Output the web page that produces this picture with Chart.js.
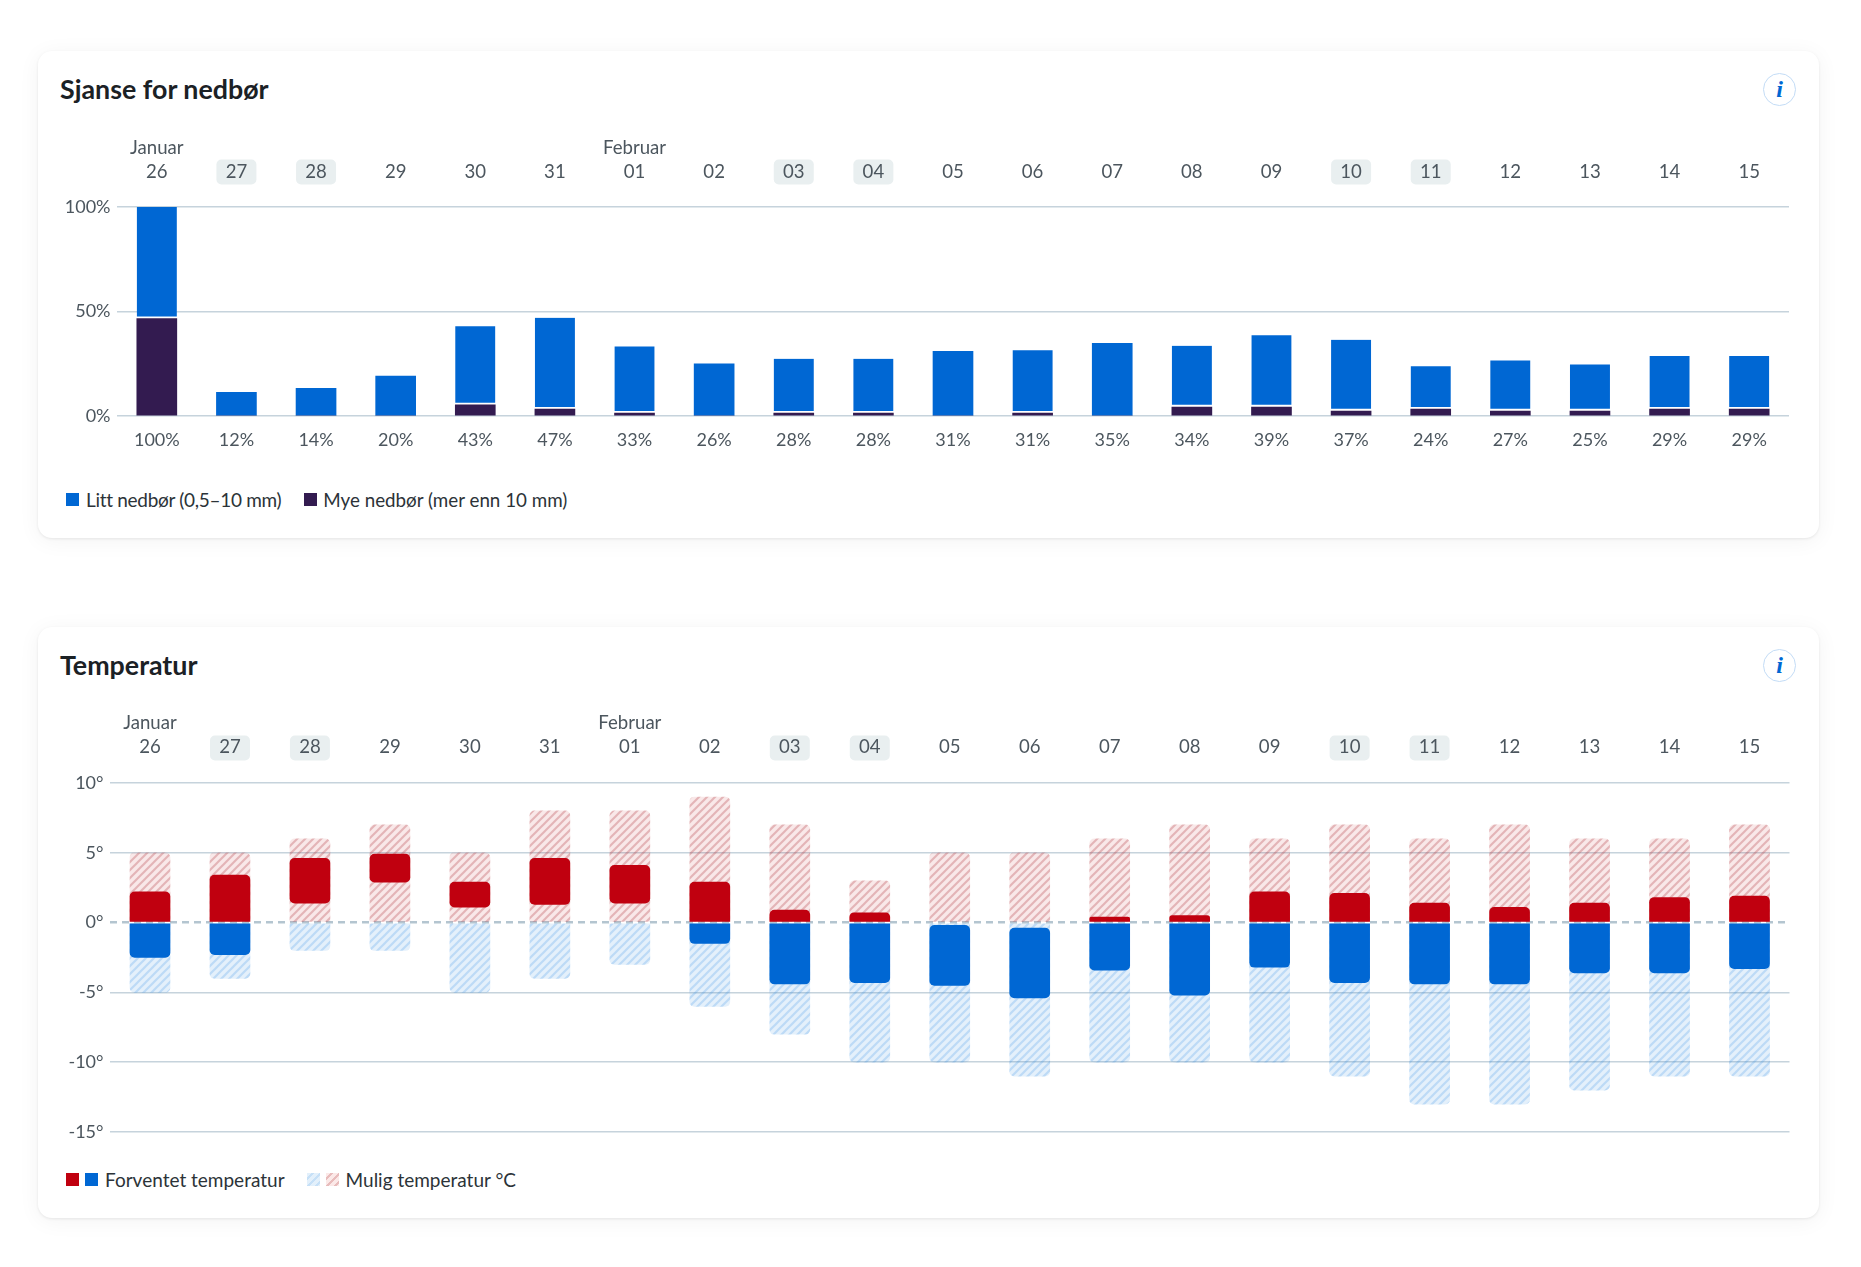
<!DOCTYPE html>
<html lang="no">
<head>
<meta charset="utf-8">
<title>Sjanse for nedbør og temperatur</title>
<script src="https://cdn.jsdelivr.net/npm/chart.js@4/dist/chart.umd.min.js"></script>
<style>
  html, body { margin: 0; background: #fff; }
  body { width: 1861px; height: 1267px; position: relative; overflow: hidden; font-family: Lato, sans-serif; }
  .card { position: absolute; left: 38px; width: 1781px; background: #fff; border-radius: 14px;
    box-shadow: 0 1px 3px rgba(0,0,0,.08), 0 3px 22px rgba(0,0,0,.05); }
  #rainCard { top: 51px; height: 487px; }
  #tempCard { top: 627px; height: 591px; }
  .card h2 { position: absolute; left: 22px; margin: 0; font-size: 26.8px; line-height: 32px; font-weight: 700; color: #1b2125; }
  #rainCard h2 { top: 22px; }
  #tempCard h2 { top: 22px; }
  .info { position: absolute; left: 1725px; width: 31px; height: 31px; border: 1.5px solid #c3dcf6; border-radius: 50%;
    text-align: center; font: italic bold 24px/31px "Liberation Serif", serif; color: #0067d3; }
  #rainCard .info { top: 22px; }
  #tempCard .info { top: 22px; }
  .plot { position: absolute; left: 0; width: 1779px; }
  #rainPlot { top: 80px; height: 340px; }
  #tempPlot { top: 79px; height: 444px; }
  .legend { position: absolute; left: 28px; height: 24px; display: flex; align-items: center; font-size: 19px; color: #2c3338; white-space: nowrap; }
  #rainCard .legend { top: 436.5px; }
  #tempCard .legend { top: 540px; }
  .swatch { width: 13px; height: 13px; display: inline-block; }
  .gap { margin-right: 7px; }
  .hatch-blue { background: repeating-linear-gradient(135deg, #e3f0fb 0 3px, #c6e0f7 3px 5.6px); }
  .hatch-red { background: repeating-linear-gradient(135deg, #fbe9e8 0 3px, #e8bcbc 3px 5.6px); }
</style>
</head>
<body>
<div class="card" id="rainCard">
  <h2>Sjanse for nedbør</h2>
  <div class="info">i</div>
  <div class="plot" id="rainPlot"><canvas id="rainChart"></canvas></div>
  <div class="legend">
    <span class="swatch gap" style="background:#0067d3"></span><span style="margin-right:23px;letter-spacing:-0.3px">Litt nedbør (0,5–10 mm)</span>
    <span class="swatch" style="background:#331b50;margin-right:6px"></span><span style="font-size:18.8px">Mye nedbør (mer enn 10 mm)</span>
  </div>
</div>
<div class="card" id="tempCard">
  <h2>Temperatur</h2>
  <div class="info">i</div>
  <div class="plot" id="tempPlot"><canvas id="tempChart"></canvas></div>
  <div class="legend">
    <span class="swatch" style="background:#c0000f;margin-right:6px"></span>
    <span class="swatch gap" style="background:#0067d3"></span><span style="margin-right:22px">Forventet temperatur</span>
    <span class="swatch hatch-blue" style="margin-right:6px"></span>
    <span class="swatch hatch-red gap"></span><span>Mulig temperatur °C</span>
  </div>
</div>

<script>
const days = ['26', '27', '28', '29', '30', '31', '01', '02', '03', '04', '05', '06', '07', '08', '09', '10', '11', '12', '13', '14', '15'];
const months = ['Januar', '', '', '', '', '', 'Februar', '', '', '', '', '', '', '', '', '', '', '', '', '', ''];
const weekendDays = ['27', '28', '03', '04', '10', '11'];

const rainTotals = ['100%', '12%', '14%', '20%', '43%', '47%', '33%', '26%', '28%', '28%', '31%', '31%', '35%', '34%', '39%', '37%', '24%', '27%', '25%', '29%', '29%'];
const heavyRain = [46.6, 0, 0, 0, 5.3, 3.3, 1.4, 0, 1.4, 1.4, 0, 1.4, 0, 4.3, 4.3, 2.4, 3.3, 2.4, 2.4, 3.3, 3.3];
const lightRain = [53.4, 11.3, 13.2, 19.1, 37.6, 43.7, 31.9, 25, 26, 26, 30.9, 30, 34.8, 29.3, 34.3, 34.1, 20.5, 24.2, 22.3, 25.4, 25.4];
const rainTicks = [0, 50, 100];

const possibleHigh = [5, 5, 6, 7, 5, 8, 8, 9, 7, 3, 5, 5, 6, 7, 6, 7, 6, 7, 6, 6, 7];
const possibleLow = [-5, -4, -2, -2, -5, -4, -3, -6, -8, -10, -10, -11, -10, -10, -10, -11, -13, -13, -12, -11, -11];
const expectedHigh = [2.2, 3.4, 4.6, 4.9, 2.9, 4.6, 4.1, 2.9, 0.9, 0.7, -0.2, -0.4, 0.4, 0.5, 2.2, 2.1, 1.4, 1.1, 1.4, 1.8, 1.9];
const expectedLow = [-2.5, -2.3, 1.4, 2.9, 1.1, 1.3, 1.4, -1.5, -4.4, -4.3, -4.5, -5.4, -3.4, -5.2, -3.2, -4.3, -4.4, -4.4, -3.6, -3.6, -3.3];
const tempTicks = [-15, -10, -5, 0, 5, 10];

const BLUE = '#0067d3';
const PURPLE = '#331b50';
const RED = '#c0000f';
const GRID = '#c6d3dc';
const ZERO_LINE = '#b4c5d0';
const TEXT = '#4c565e';
const FONT = 'Lato, sans-serif';

const dayLabels = days.map((d, i) => months[i] ? [months[i], d] : d);

// diagonal stripes for the "possible temperature" bars, see-through so the grid shows
function hatch(bg, stripe) {
  const size = 8;
  const tile = document.createElement('canvas');
  tile.width = size;
  tile.height = size;
  const ctx = tile.getContext('2d');
  ctx.fillStyle = bg;
  ctx.fillRect(0, 0, size, size);
  ctx.strokeStyle = stripe;
  ctx.lineWidth = 2.2;
  ctx.lineCap = 'square';
  ctx.beginPath();
  ctx.moveTo(-2, 2);
  ctx.lineTo(2, -2);
  ctx.moveTo(-2, 10);
  ctx.lineTo(10, -2);
  ctx.moveTo(6, 10);
  ctx.lineTo(10, 6);
  ctx.stroke();
  return ctx.createPattern(tile, 'repeat');
}

// grey boxes behind the weekend dates
const weekendBadges = {
  id: 'weekendBadges',
  beforeDraw(chart) {
    const scale = chart.scales.x;
    const ctx = chart.ctx;
    ctx.save();
    ctx.fillStyle = '#e9eff0';
    days.forEach((d, i) => {
      if (!weekendDays.includes(d)) return;
      ctx.beginPath();
      ctx.roundRect(scale.getPixelForTick(i) - 20, scale.bottom - 47.5, 40, 25, 5);
      ctx.fill();
    });
    ctx.restore();
  }
};

function dayAxis(height, padding) {
  return {
    position: 'top',
    stacked: true,
    grid: { display: false },
    border: { display: false },
    afterFit: scale => { scale.height = height; },
    ticks: {
      color: TEXT,
      padding: padding,
      maxRotation: 0,
      autoSkip: false,
      font: { family: FONT, size: 18.6, lineHeight: 1.3 }
    }
  };
}

function valueAxis(width, min, max, ticks, suffix) {
  return {
    min: min,
    max: max,
    afterFit: scale => { scale.width = width; },
    afterBuildTicks: scale => { scale.ticks = ticks.map(v => ({ value: v })); },
    border: {
      display: false,
      dash: ctx => (suffix === '°' && ctx.tick && ctx.tick.value === 0 ? [7, 5] : [])
    },
    grid: {
      color: ctx => (suffix === '°' && ctx.tick && ctx.tick.value === 0 ? ZERO_LINE : GRID),
      lineWidth: ctx => (suffix === '°' && ctx.tick && ctx.tick.value === 0 ? 2.5 : 1.5),
      drawTicks: false
    },
    ticks: {
      color: TEXT,
      padding: 6.5,
      font: { family: FONT, size: 18 },
      callback: v => v + suffix
    }
  };
}

new Chart(document.getElementById('rainChart'), {
  type: 'bar',
  plugins: [weekendBadges],
  data: {
    labels: dayLabels,
    datasets: [
      { label: 'Mye nedbør (mer enn 10 mm)', data: heavyRain, backgroundColor: PURPLE, barThickness: 40 },
      {
        label: 'Litt nedbør (0,5–10 mm)',
        data: lightRain,
        backgroundColor: BLUE,
        barThickness: 40,
        borderColor: '#fff',
        borderSkipped: false,
        borderWidth: ctx => ({ top: 0, left: 0, right: 0, bottom: heavyRain[ctx.dataIndex] > 0 ? 2.5 : 0 })
      }
    ]
  },
  options: {
    responsive: true,
    maintainAspectRatio: false,
    animation: false,
    layout: { padding: { right: 28 } },
    plugins: { legend: { display: false }, tooltip: { enabled: false } },
    scales: {
      x: dayAxis(76, 15),
      x2: {
        type: 'category',
        labels: rainTotals,
        position: 'bottom',
        grid: { display: false },
        border: { display: false },
        afterFit: scale => { scale.height = 55; },
        ticks: { color: TEXT, padding: 5, maxRotation: 0, autoSkip: false, font: { family: FONT, size: 18 } }
      },
      y: Object.assign(valueAxis(79, 0, 100, rainTicks, '%'), { stacked: true })
    }
  }
});

const hatchRed = hatch('rgba(192,0,15,0.09)', 'rgba(180,60,70,0.30)');
const hatchBlue = hatch('rgba(30,130,225,0.12)', 'rgba(30,130,225,0.2)');

function corners(roundTop, roundBottom) {
  const r = 5;
  return {
    topLeft: roundTop ? r : 0,
    topRight: roundTop ? r : 0,
    bottomLeft: roundBottom ? r : 0,
    bottomRight: roundBottom ? r : 0
  };
}

new Chart(document.getElementById('tempChart'), {
  type: 'bar',
  plugins: [weekendBadges],
  data: {
    labels: dayLabels,
    datasets: [
      {
        label: 'Forventet temperatur over null',
        data: days.map((d, i) => expectedHigh[i] > 0 ? [Math.max(expectedLow[i], 0), expectedHigh[i]] : null),
        backgroundColor: RED,
        barThickness: 40,
        borderSkipped: false,
        borderRadius: ctx => corners(true, expectedLow[ctx.dataIndex] > 0),
        order: 1
      },
      {
        label: 'Forventet temperatur under null',
        data: days.map((d, i) => expectedLow[i] < 0 ? [Math.min(expectedHigh[i], 0), expectedLow[i]] : null),
        backgroundColor: BLUE,
        barThickness: 40,
        borderSkipped: false,
        borderRadius: ctx => corners(expectedHigh[ctx.dataIndex] < 0, true),
        order: 1
      },
      {
        label: 'Mulig temperatur over null',
        data: days.map((d, i) => [0, possibleHigh[i]]),
        backgroundColor: hatchRed,
        barThickness: 40,
        borderSkipped: false,
        borderRadius: corners(true, false),
        order: 2
      },
      {
        label: 'Mulig temperatur under null',
        data: days.map((d, i) => [0, possibleLow[i]]),
        backgroundColor: hatchBlue,
        barThickness: 40,
        borderSkipped: false,
        borderRadius: corners(false, true),
        order: 2
      }
    ]
  },
  options: {
    responsive: true,
    maintainAspectRatio: false,
    animation: false,
    layout: { padding: { right: 27.5, bottom: 18 } },
    plugins: { legend: { display: false }, tooltip: { enabled: false } },
    scales: {
      x: dayAxis(77, 16),
      y: valueAxis(72, -15, 10, tempTicks, '°')
    }
  }
});
</script>
</body>
</html>
